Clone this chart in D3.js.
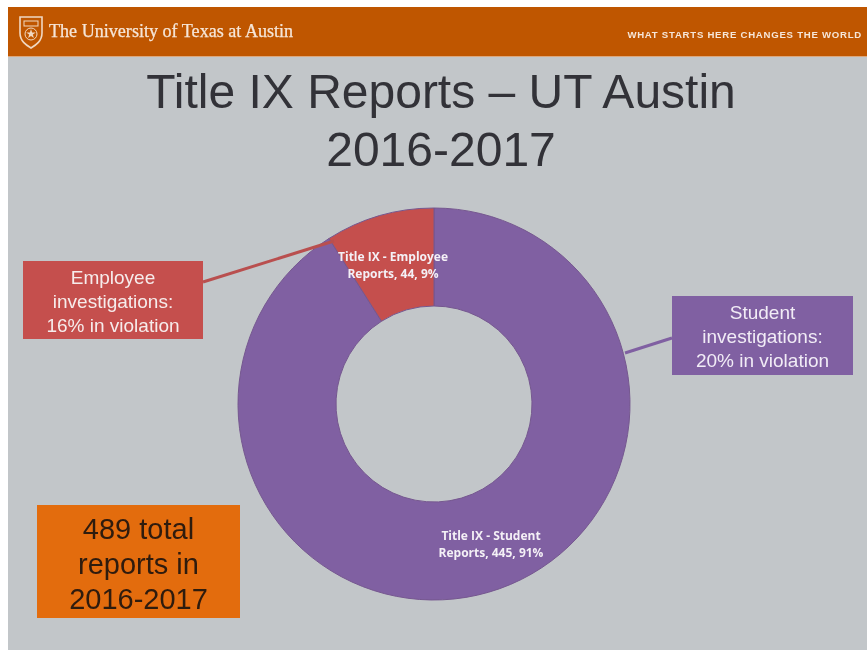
<!DOCTYPE html>
<html>
<head>
<meta charset="utf-8">
<script src="https://cdn.jsdelivr.net/npm/d3@7"></script>
<style>
  html, body { margin: 0; padding: 0; background: #fff; }
  svg { display: block; }
  text { font-family: "Liberation Sans", Arial, sans-serif; }
</style>
</head>
<body>
<div id="chart"></div>
<script>
// Report counts
let categories = ['Title IX - Student', 'Title IX - Employee']
let reports = [445, 44]
let percents = ['91%', '9%']
let sliceColors = ['#8060a2', '#c5504d']

let titleLines = ['Title IX Reports \u2013 UT Austin', '2016-2017']
let employeeNote = ['Employee', 'investigations:', '16% in violation']
let studentNote = ['Student', 'investigations:', '20% in violation']
let totalNote = ['489 total', 'reports in', '2016-2017']

let width = 867
let height = 650
let radius = 196
let center = { x: 434, y: 404 }

let svg = d3
  .select('#chart')
  .append('svg')
  .attr('width', width)
  .attr('height', height)

// slight softness, the source is a scaled-up screenshot
svg
  .append('defs')
  .append('filter')
  .attr('id', 'soft')
  .append('feGaussianBlur')
  .attr('stdDeviation', 0.5)

// slide background
svg
  .append('rect')
  .attr('x', 8)
  .attr('y', 7)
  .attr('width', width - 8)
  .attr('height', height - 7)
  .attr('fill', '#c2c6c9')

let slide = svg.append('g').attr('filter', 'url(#soft)')

// orange header
slide
  .append('rect')
  .attr('x', 8)
  .attr('y', 7)
  .attr('width', width - 8)
  .attr('height', 49)
  .attr('fill', '#bf5700')

slide
  .append('rect')
  .attr('x', 8)
  .attr('y', 56)
  .attr('width', width - 8)
  .attr('height', 1)
  .attr('fill', '#dca77c')

// shield logo
let shield = slide.append('g').attr('transform', 'translate(31,32)')
shield
  .append('path')
  .attr('d', 'M-11,-15 H11 V1 C11,9 5,13 0,16 C-5,13 -11,9 -11,1 Z')
  .attr('fill', 'none')
  .attr('stroke', '#f0d8c2')
  .attr('stroke-width', 1.6)
shield
  .append('rect')
  .attr('x', -7)
  .attr('y', -11)
  .attr('width', 14)
  .attr('height', 5)
  .attr('fill', 'none')
  .attr('stroke', '#f0d8c2')
shield
  .append('circle')
  .attr('cx', 0)
  .attr('cy', 2)
  .attr('r', 6)
  .attr('fill', 'none')
  .attr('stroke', '#f0d8c2')
shield
  .append('path')
  .attr('transform', 'translate(0,2)')
  .attr('d', d3.symbol(d3.symbolStar, 28)())
  .attr('fill', '#f0d8c2')

slide
  .append('text')
  .attr('x', 49)
  .attr('y', 37)
  .attr('font-size', 18.1)
  .attr('fill', '#f6e6d8')
  .attr('stroke', '#f6e6d8')
  .attr('stroke-width', 0.25)
  .style('font-family', '"Liberation Serif", serif')
  .text('The University of Texas at Austin')

slide
  .append('text')
  .attr('x', 862)
  .attr('y', 38)
  .attr('text-anchor', 'end')
  .attr('font-size', 9.6)
  .attr('font-weight', 'bold')
  .attr('letter-spacing', 0.75)
  .attr('fill', '#f6e6d8')
  .text('WHAT STARTS HERE CHANGES THE WORLD')

// title
slide
  .selectAll('.title')
  .data(titleLines)
  .enter()
  .append('text')
  .attr('class', 'title')
  .attr('x', 441)
  .attr('y', (d, i) => 108 + i * 58)
  .attr('text-anchor', 'middle')
  .attr('font-size', 48)
  .attr('fill', '#333338')
  .text(d => d)

// donut
let pie = d3.pie().sort(null)
let arc = d3
  .arc()
  .innerRadius(radius / 2)
  .outerRadius(radius)

let donut = slide
  .append('g')
  .attr('transform', `translate(${center.x},${center.y})`)

donut
  .selectAll('path')
  .data(pie(reports))
  .enter()
  .append('path')
  .attr('d', arc)
  .attr('fill', (d, i) => sliceColors[i])
  .attr('stroke', '#75578f')
  .attr('stroke-width', 1)

// leader lines
slide
  .append('line')
  .attr('x1', 203)
  .attr('y1', 282)
  .attr('x2', 334)
  .attr('y2', 241)
  .attr('stroke', '#b9504f')
  .attr('stroke-width', 3)

slide
  .append('line')
  .attr('x1', 625)
  .attr('y1', 353)
  .attr('x2', 672)
  .attr('y2', 338)
  .attr('stroke', '#8060a2')
  .attr('stroke-width', 3)

// slice labels
let sliceLabels = [
  { x: 491, y: 540, lines: [categories[0], `Reports, ${reports[0]}, ${percents[0]}`] },
  { x: 393, y: 261, lines: [categories[1], `Reports, ${reports[1]}, ${percents[1]}`] }
]

sliceLabels.forEach(label => {
  slide
    .append('g')
    .selectAll('text')
    .data(label.lines)
    .enter()
    .append('text')
    .attr('x', label.x)
    .attr('y', (d, i) => label.y + i * 16.5)
    .attr('text-anchor', 'middle')
    .attr('font-size', 12)
    .attr('font-weight', 'bold')
    .attr('fill', '#f4f0f6')
    .style('font-family', '"Open Sans", sans-serif')
    .text(d => d)
})

// note boxes
function noteBox(x, y, w, h, fill, lines, size, lineHeight, firstBase, textColor) {
  slide
    .append('rect')
    .attr('x', x)
    .attr('y', y)
    .attr('width', w)
    .attr('height', h)
    .attr('fill', fill)

  slide
    .append('g')
    .selectAll('text')
    .data(lines)
    .enter()
    .append('text')
    .attr('x', x + w / 2)
    .attr('y', (d, i) => firstBase + i * lineHeight)
    .attr('text-anchor', 'middle')
    .attr('font-size', size)
    .attr('fill', textColor)
    .text(d => d)
}

noteBox(23, 261, 180, 78, '#c5504d', employeeNote, 19, 24, 284, '#f6ecec')
noteBox(672, 296, 181, 79, '#8060a2', studentNote, 19, 24, 319, '#f1ecf6')
noteBox(37, 505, 203, 113, '#e36c0a', totalNote, 29, 35, 539, '#2f1a10')
</script>
</body>
</html>
